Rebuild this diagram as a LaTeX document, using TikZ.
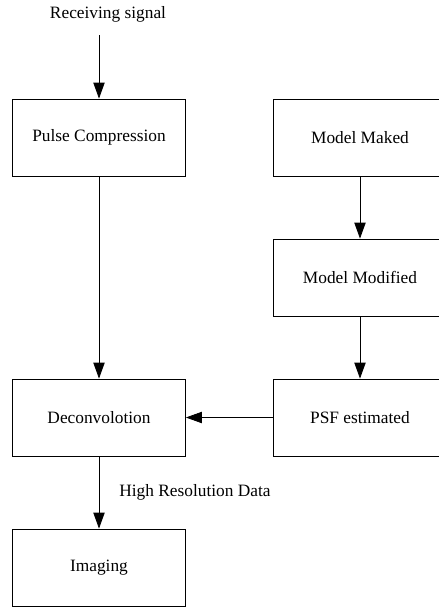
\documentclass[tikz,border=0pt]{standalone}
\usepackage{fontspec}
\setmainfont{Liberation Serif}
\usetikzlibrary{arrows.meta}

\begin{document}
\begin{tikzpicture}[x=0.75pt,y=0.75pt,
  block/.style={draw, line width=0.6pt, minimum width=129.75pt, minimum height=57.75pt, inner sep=0pt},
  arr/.style={line width=0.6pt, -{Triangle[length=12pt,width=8.5pt]}},
  every node/.style={font=\fontsize{13}{15}\selectfont}]
\useasboundingbox (0,0) rectangle (439,-607);
% left column
\node [inner sep=0pt, minimum height=31.5pt] (recv) at (108,-14) {Receiving signal};
\node [block] (pulse) at (99,-137.5) {Pulse Compression};
\node [block] (deconv) at (99,-417.5) {Deconvolotion};
\node [block] (imaging) at (99,-567.5) {Imaging};
% right column
\node [block] (model) at (360,-137.5) {Model Maked};
\node [block] (modif) at (360,-277.5) {Model Modified};
\node [block] (psf) at (360,-417.5) {PSF estimated};
% connectors
\draw [arr] (pulse.north |- recv.south) -- (pulse.north);
\draw [arr] (pulse) -- (deconv);
\draw [arr] (model) -- (modif);
\draw [arr] (modif) -- (psf);
\draw [arr] (psf) -- (deconv);
\draw [arr] (deconv) -- node [right=15pt, inner sep=0pt] {High Resolution Data} (imaging);
\end{tikzpicture}
\end{document}
